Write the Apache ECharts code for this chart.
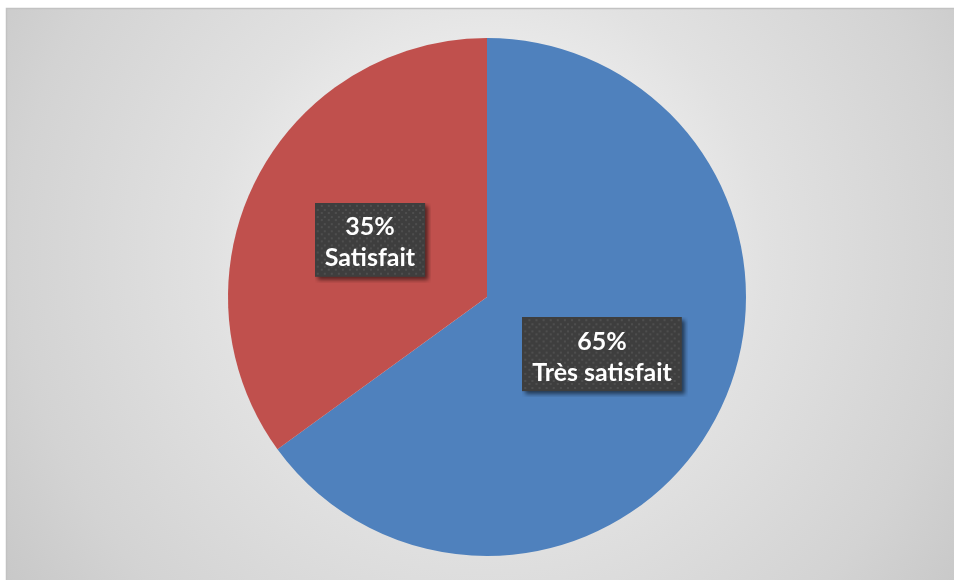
<!DOCTYPE html>
<html>
<head>
<meta charset="utf-8">
<script src="https://cdn.jsdelivr.net/npm/echarts@6/dist/echarts.min.js"></script>
<style>
  html, body { margin: 0; padding: 0; background: #fff; }
  #chart { width: 954px; height: 580px; }
</style>
</head>
<body>
<div id="chart"></div>
<script>
// donnees
var categories = ['Très satisfait', 'Satisfait'];
var values = [65, 35];
var colors = ['#4F81BD', '#C0504D'];

// fond pointille + ombre des etiquettes, dessine dans un canvas
// (l'ombre n'est pas appliquee quand le fond est une image)
function dotBox(w, h) {
    var s = 6;
    var c = document.createElement('canvas');
    c.width = w + s; c.height = h + s;
    var ctx = c.getContext('2d');
    ctx.save();
    ctx.shadowColor = 'rgba(0,0,0,0.55)';
    ctx.shadowBlur = 4;
    ctx.shadowOffsetX = 3;
    ctx.shadowOffsetY = 3;
    ctx.fillStyle = '#3e3e3e';
    ctx.fillRect(0, 0, w, h);
    ctx.restore();
    ctx.fillStyle = '#4e4e4e';
    var row = 0;
    for (var y = 2; y < h - 1; y += 3.5) {
        for (var x = (row % 2 ? 2 : 5.5); x < w - 1; x += 7) {
            ctx.fillRect(Math.round(x), Math.round(y), 2, 2);
        }
        row++;
    }
    return c;
}

var boxSizes = [[157, 73], [110, 73]];
var labelShift = [[0, 0], [4, 6]];

var chart = echarts.init(document.getElementById('chart'));

var pieData = categories.map(function (name, i) {
    return {
        name: name,
        value: values[i],
        itemStyle: { color: colors[i] },
        label: {
            offset: labelShift[i],
            backgroundColor: { image: dotBox(boxSizes[i][0], boxSizes[i][1]) }
        }
    };
});

chart.setOption({
    animation: false,
    graphic: [{
        type: 'rect',
        z: -10,
        shape: { x: 6.5, y: 8.5, width: 960, height: 580 },
        style: {
            fill: new echarts.graphic.RadialGradient(0.5, 0.42, 1.0, [
                { offset: 0, color: '#ffffff' },
                { offset: 0.48, color: '#e1e1e1' },
                { offset: 0.81, color: '#d3d3d3' },
                { offset: 1, color: '#c8c8c8' }
            ]),
            stroke: '#c2c2c2',
            lineWidth: 1.5
        }
    }],
    series: [{
        type: 'pie',
        center: [487, 297],
        radius: [0, 259],
        startAngle: 90,
        clockwise: true,
        data: pieData,
        itemStyle: { borderWidth: 0 },
        emphasis: { disabled: true },
        label: {
            show: true,
            position: 'inside',
            formatter: '{d}%\n{b}',
            color: '#ffffff',
            fontFamily: 'Lato',
            fontWeight: 'bold',
            fontSize: 25,
            lineHeight: 31,
            padding: [6, 16, 12, 10]
        },
        labelLine: { show: false }
    }]
});

window.addEventListener('resize', function () {
    chart.resize();
});
</script>
</body>
</html>
